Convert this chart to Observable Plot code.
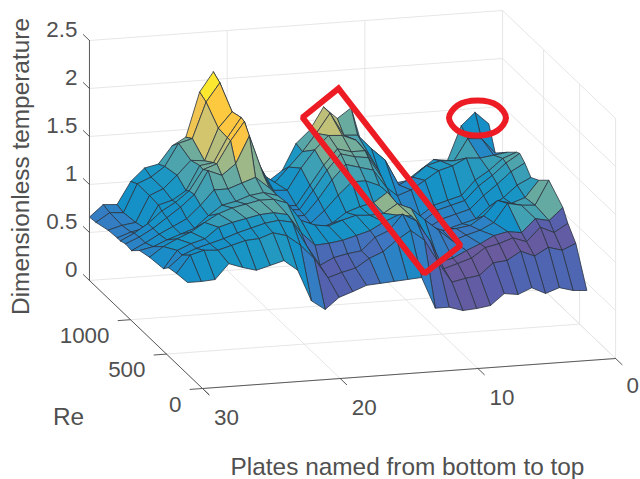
<!DOCTYPE html>
<html><head><meta charset="utf-8">
<style>html,body{margin:0;padding:0;background:#fff}svg{display:block}</style>
<script src="https://cdn.jsdelivr.net/npm/d3@7"></script>
<script src="https://cdn.jsdelivr.net/npm/@observablehq/plot@0.6"></script>
</head><body><div id="chart"></div>
<script>
// plates, listed from the front corner (30) to the far end (1)
const plates = [30,29,28,27,26,25,24,23,22,21,20,19,18,17,16,15,14,13,12,11,10,9,8,7,6,5,4,3,2,1];
const reynolds = [1570,1480,1310,1185,1140,1070,985,875,736,541,472,361,208];
const zRe1570 = [.66,.78,.77,1.0,1.13,1.16,1.34,1.42,1.88,2.08,1.55,1.3,1.1,.9,1.0,1.27,1.40,1.63,1.50,1.60,1.1,.95,.78,.80,.90,1.0,.98,1.33,1.46,1.33];
const zRe1480 = [.67,.76,.75,1.04,1.10,1.2,1.43,1.47,1.84,2.03,1.6,1.2,1.05,.95,1.10,1.25,1.43,1.63,1.39,1.38,1.23,1.10,.83,.90,1.01,1.05,1.04,1.26,1.25,1.09];
const zRe1310 = [.71,.75,.77,1.04,1.10,1.23,1.375,1.36,1.69,1.85,1.65,1.27,1.0,.99,1.21,1.39,1.53,1.52,1.46,1.29,.97,.85,.90,.99,1.08,1.12,1.19,1.18,1.20,1.22];
const zRe1185 = [.72,.77,.80,1.03,1.07,1.16,1.41,1.43,1.68,1.88,1.42,1.15,.93,.92,1.12,1.32,1.48,1.44,1.44,1.22,.85,.73,.72,.82,.86,.90,1.05,1.14,1.255,1.31];
const zRe1140 = [.72,.79,.88,1.0,1.08,1.19,1.40,1.45,1.68,1.87,1.40,1.12,.92,.91,1.10,1.30,1.46,1.42,1.40,1.18,.83,.72,.70,.80,.84,.88,1.02,1.12,1.24,1.33];
const zRe1070 = [.74,.8,.88,.98,1.08,1.2,1.44,1.38,1.49,1.77,1.36,1.1,.9,.9,1.06,1.25,1.4,1.36,1.32,1.12,.8,.7,.68,.76,.8,.84,.97,1.08,1.2,1.28];
const zRe985 = [.73,.8,.88,.95,1.02,1.15,1.3,1.3,1.35,1.4,1.28,1.08,.9,.88,1.0,1.15,1.28,1.28,1.22,1.05,.75,.68,.65,.72,.76,.8,.92,1.0,1.12,1.19];
const zRe875 = [.81,.84,.9,.95,1.0,1.12,1.22,1.25,1.3,1.32,1.28,1.08,.95,.9,.95,1.05,1.1,1.13,1.23,1.05,.93,.85,.79,.80,.82,.91,1.06,1.02,1.07,1.24];
const zRe736 = [.84,.94,1.01,1.07,1.16,1.24,1.29,1.32,1.35,1.35,1.30,1.11,1.05,1.03,1.08,1.12,1.11,1.12,1.21,1.15,1.02,.9,.78,.83,.87,.94,1.13,1.10,1.09,1.34];
const zRe541 = [.86,1.04,1.10,1.14,1.25,1.29,1.32,1.35,1.36,1.33,1.13,.99,1.0,1.02,1.06,1.1,1.18,1.24,1.22,1.02,.72,.75,.82,.88,.955,.985,.965,1.10,1.07,1.195];
const zRe472 = [.92,1.04,1.10,1.14,1.18,1.23,1.27,1.31,1.33,1.30,1.05,.83,.90,.93,.95,1.08,1.14,1.30,1.22,1.0,.70,.745,.79,.89,.92,.97,.92,1.06,.995,1.08];
const zRe361 = [.94,1.12,1.16,1.15,1.19,1.23,1.24,1.29,1.25,1.14,.99,.78,.825,.86,.95,1.01,1.12,1.21,1.10,.86,.64,.67,.69,.81,.825,.91,.85,.93,.89,.95];
const zRe208 = [.955,.955,.965,1.12,1.07,1.03,1.07,1.11,1.0,.67,.57,.685,.735,.79,.80,.81,.82,.83,.50,.50,.455,.465,.486,.60,.58,.64,.57,.62,.58,.57];
const surfaceRows = [zRe1570,zRe1480,zRe1310,zRe1185,zRe1140,zRe1070,zRe985,zRe875,zRe736,zRe541,zRe472,zRe361,zRe208];
// face colour is not the height alone: shifts, per plate, for five bands of rows
const shiftCrest = [.12,.12,.12,0,0,0,0,0,0,0,0,0,0,0,0,0,.03,0,-.08,-.08,0,0,0,.1,.1,.1,.1,-.3,-.3,-.3];
const shiftBack = [.12,.12,.12,0,0,0,0,0,0,0,0,0,0,0,0,0,-.05,-.05,0,0,.1,.1,.1,.1,.1,.1,.05,.05,.05,.05];
const shiftMid = [.05,.05,.05,0,0,0,0,0,0,0,0,0,0,0,0,0,0,.3,.3,0,0,0,0,0,0,0,.2,.2,.2,.2];
const shiftFront = [-.05,-.1,-.15,-.15,-.15,-.15,-.15,-.15,-.15,-.15,-.25,-.25,-.25,-.25,-.3,-.3,-.3,-.3,-.3,-.3,-.5,-.5,-.5,-.5,-.5,-.5,-.5,-.5,-.5,-.5];
const shiftEdge = [0,0,0,0,0,0,0,0,0,0,-.15,-.15,-.15,-.15,-.05,-.05,-.05,-.05,-.1,-.1,-.1,-.1,-.1,-.1,-.1,-.1,-.1,-.1,-.1,-.1];
const colorLevels = [.4,.6,.8,1,1.15,1.3,1.45,1.58,1.68,1.85,1.98];
const colorRange = ["#6a5a9e","#5560ae","#3d78c2","#1490c8","#1a96c4","#4aa3ae","#7fb095","#cfc472","#fcc545","#fdc93f","#fbee2c"];

const plateTicks = [30,20,10,0];
const reTicks = [0,500,1000];
const zTicks = [0,.5,1,1.5,2,2.5];
const zTickLabels = ["0","0.5","1","1.5","2","2.5"];
const reMax = 1570, zMax = 2.5;

// view of the 3-D box (orthographic)
const view = (plate, re, z) => ({
  x: 202 + (30 - plate) * 13.77 - re * 0.072,
  y: 388 - (30 - plate) - re * 0.0688 - z * 96
});
const seg = (id, a, b) => [{id, ...view(...a)}, {id, ...view(...b)}];

// faces, back to front
const bandOf = r => r <= 1 ? shiftCrest : r <= 6 ? shiftBack : r <= 8 ? shiftMid : r <= 10 ? shiftFront : shiftEdge;
const faces = [];
for (let r = 0; r < reynolds.length - 1; r++) {
  for (let n = plates.length - 2; n >= 0; n--) {
    const corners = [[n, r], [n + 1, r], [n + 1, r + 1], [n, r + 1], [n, r]];
    const mean = (surfaceRows[r][n] + surfaceRows[r][n+1] + surfaceRows[r+1][n] + surfaceRows[r+1][n+1]) / 4;
    const shift = bandOf(r)[n];
    for (const [i, j] of corners) {
      faces.push({cell: r + "-" + n, c: mean + shift, ...view(plates[i], reynolds[j], surfaceRows[j][i])});
    }
  }
}

// grid on the walls and the floor
const grid = [];
zTicks.forEach((z, i) => {
  grid.push(...seg("zb" + i, [30, reMax, z], [0, reMax, z]));
  grid.push(...seg("zr" + i, [0, reMax, z], [0, 0, z]));
});
plateTicks.forEach((p, i) => {
  grid.push(...seg("pf" + i, [p, 0, 0], [p, reMax, 0]));
  grid.push(...seg("pb" + i, [p, reMax, 0], [p, reMax, zMax]));
});
[...reTicks].forEach((re, i) => {
  grid.push(...seg("rf" + i, [30, re, 0], [0, re, 0]));
  grid.push(...seg("rr" + i, [0, re, 0], [0, re, zMax]));
});

// axes and ticks
const axes = [
  ...seg("ax1", [30, reMax, 0], [30, reMax, zMax]),
  ...seg("ax2", [30, reMax, 0], [30, -90, 0]),
  ...seg("ax3", [30, 0, 0], [0, 0, 0])
];
zTicks.forEach((z, i) => axes.push(...seg("tz" + i, [30, reMax, z], [30, reMax + 85, z])));
plateTicks.forEach((p, i) => axes.push(...seg("tp" + i, [p, 0, 0], [p, -90, 0])));
reTicks.forEach((re, i) => axes.push(...seg("tr" + i, [30, re, 0], [30.9, re, 0])));

// tick label and title anchors
const zLabels = zTicks.map((z, i) => ({t: zTickLabels[i], x: view(30, reMax, z).x - 12, y: view(30, reMax, z).y - 11}));
const reLabels = reTicks.map(re => ({t: String(re), x: view(30, re, 0).x - 21, y: view(30, re, 0).y + 16}));
const plateLabels = plateTicks.map(p => ({t: String(p), x: view(p, 0, 0).x + 24 - (p === 0 ? 7 : 0), y: view(p, 0, 0).y + 29 - (p === 0 ? 2 : 0)}));
const titles = [
  {t: "Dimensionless temperature", x: 21, y: 166, r: -90},
  {t: "Re", x: 68, y: 417, r: 0},
  {t: "Plates named from bottom to top", x: 407, y: 467, r: 0}
];

// red call-outs drawn on the figure
const calloutBoxX = [338, 460, 424, 302, 338];
const calloutBoxY = [88, 245, 273, 117, 88];
const calloutRingX = [505.5, 497, 477, 457, 448.5, 457, 477, 497];
const calloutRingY = [117.5, 130, 135, 130, 117.5, 105, 100, 105];

const text = "#505050", fontFamily = "Liberation Sans, Arial, sans-serif";
const plot = Plot.plot({
  width: 640, height: 479,
  margin: 0, marginTop: 0, marginBottom: 0, marginLeft: 0, marginRight: 0,
  x: {domain: [0, 640], range: [0, 640], axis: null},
  y: {domain: [0, 479], range: [0, 479], axis: null},
  color: {type: "linear", domain: colorLevels, range: colorRange, clamp: true},
  style: {background: "#fff", fontFamily},
  marks: [
    Plot.line(grid, {x: "x", y: "y", z: "id", stroke: "#e6e6e6", strokeWidth: 1}),
    Plot.line(faces, {x: "x", y: "y", z: "cell", fill: "c", stroke: "#2b3440", strokeWidth: 0.8, strokeLinejoin: "round"}),
    Plot.line(axes, {x: "x", y: "y", z: "id", stroke: "#5a5a5a", strokeWidth: 1}),
    Plot.text(zLabels, {x: "x", y: "y", text: "t", textAnchor: "end", fontSize: 22.4, fill: text}),
    Plot.text(reLabels, {x: "x", y: "y", text: "t", textAnchor: "end", fontSize: 22.4, fill: text}),
    Plot.text(plateLabels, {x: "x", y: "y", text: "t", fontSize: 22.4, fill: text}),
    Plot.text(titles, {x: "x", y: "y", text: "t", rotate: "r", fontSize: 24.4, fill: text}),
    Plot.line(calloutBoxX.map((x, i) => ({x, y: calloutBoxY[i]})), {x: "x", y: "y", stroke: "#ed1c24", strokeWidth: 6, strokeLinejoin: "miter", strokeLinecap: "square"}),
    Plot.line(calloutRingX.map((x, i) => ({x, y: calloutRingY[i]})), {x: "x", y: "y", stroke: "#ed1c24", strokeWidth: 6, curve: "catmull-rom-closed"})
  ]
});
document.getElementById("chart").append(plot);
</script></body></html>
